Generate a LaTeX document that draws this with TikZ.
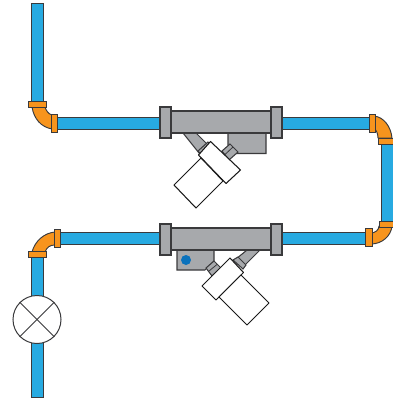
\documentclass[tikz,border=0pt]{standalone}
\definecolor{pipeblue}{HTML}{27AAE1}
\definecolor{fitorange}{HTML}{F7941D}
\definecolor{bodygray}{HTML}{A7A9AC}
\definecolor{edgegray}{HTML}{3A3A3C}
\definecolor{dotblue}{HTML}{0B72BC}
\tikzset{
  pipe/.style={draw=edgegray,fill=pipeblue,line width=0.95pt},
  fit/.style={draw=edgegray,fill=fitorange,line width=0.95pt},
  gray part/.style={draw=edgegray,fill=bodygray,line width=1.05pt},
  white part/.style={draw=black!90,fill=white,line width=1.05pt,line join=round},
}
\begin{document}
\begin{tikzpicture}[x=1pt,y=-1pt]
\useasboundingbox (0,0) rectangle (392,402);
% pipes
\draw[pipe] (31,3) rectangle (43,102);
\draw[pipe] (56,117) rectangle (161,129);
\draw[pipe] (281,117) rectangle (369,129);
\draw[pipe] (381,143) rectangle (393,222);
\draw[pipe] (281,232) rectangle (366,244);
\draw[pipe] (59,232) rectangle (161,244);
\draw[pipe] (31,257) rectangle (43,397);
% elbows
\draw[fit] (32,107) .. controls (34,119) and (41,127) .. (52,129) -- (52,115) .. controls (48,114) and (46,110) .. (45,107) -- cycle;
\draw[fit] (374,116) .. controls (384,117) and (391,127) .. (392,138) -- (378,138) .. controls (378,133) and (376,130) .. (374,128) -- cycle;
\draw[fit] (371,244) .. controls (382,244) and (391,236) .. (392,226) -- (379,226) .. controls (379,230) and (375,233) .. (371,233) -- cycle;
\draw[fit] (55,232) .. controls (44,233) and (35,241) .. (32,252) -- (45,252) .. controls (47,247) and (50,245) .. (55,245) -- cycle;
% flanges
\draw[fit] (28,101) rectangle (46,107.5);
\draw[fit] (51,114) rectangle (57,132);
\draw[fit] (369,114) rectangle (375,132);
\draw[fit] (378,138) rectangle (393,144);
\draw[fit] (379,221) rectangle (393,227);
\draw[fit] (365,228.5) rectangle (372,246.5);
\draw[fit] (54,229) rectangle (60,247);
\draw[fit] (28,251.5) rectangle (46,257);
% upper valve
\draw[gray part] (228,133) -- (266,133) -- (266,153.5) -- (236,153.5) -- (228,145) -- cycle;
\draw[gray part] (183,133) -- (196,133) -- (209,146) -- (199,153) -- cycle;
\draw[gray part] (198,151) -- (208,142) -- (211,145) -- (201,154) -- cycle;
\draw[gray part] (222,151) -- (230,144) -- (238,152) -- (229,160) -- cycle;
\draw[edgegray,line width=0.8pt] (225,154.5) -- (233,147);
\draw[white part] (210.5,141.5) -- (240.5,170) -- (226,183.5) -- (198.5,155) -- cycle;
\draw[white part] (201,158) -- (223,181) -- (196,208) -- (174,185) -- cycle;
\draw[gray part] (171,111) rectangle (271,133);
\draw[gray part] (160,107) rectangle (171,138);
\draw[gray part] (271,107) rectangle (282,138);
% lower valve
\draw[gray part] (177,250) -- (214,250) -- (214,261) -- (205,270) -- (177,270) -- cycle;
\draw[gray part] (247,250) -- (260,250) -- (243,267) -- (236,259) -- cycle;
\draw[gray part] (233,260) -- (238,257) -- (246,265) -- (243,269) -- cycle;
\draw[gray part] (206,268) -- (214,261) -- (221,268) -- (212,276) -- cycle;
\draw[edgegray,line width=0.8pt] (209,271) -- (217,264.5);
\draw[white part] (230,258) -- (243.5,272.5) -- (216,300) -- (202,286) -- cycle;
\draw[white part] (241,275) -- (269,303) -- (247,325) -- (219,297) -- cycle;
\draw[gray part] (171,228) rectangle (271,250);
\draw[gray part] (160,224) rectangle (171,255);
\draw[gray part] (271,224) rectangle (282,255);
\fill[dotblue] (186,260) circle (5);
% sight glass
\node[circle,draw=edgegray,fill=white,line width=1pt,minimum size=48pt,inner sep=0pt] (gauge) at (37,319.5) {};
\draw[edgegray,line width=0.9pt] (gauge.north west) -- (gauge.south east);
\draw[edgegray,line width=0.9pt] (gauge.north east) -- (gauge.south west);
\end{tikzpicture}
\end{document}
